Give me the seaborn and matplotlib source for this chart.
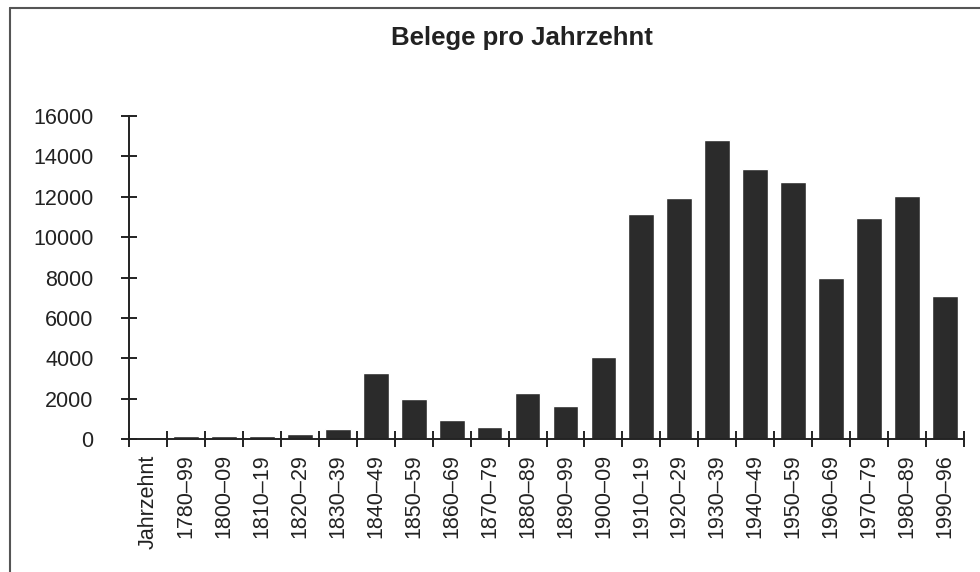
import matplotlib
matplotlib.use("Agg")
import matplotlib.pyplot as plt
from matplotlib.lines import Line2D
import seaborn as sns
import pandas as pd

# Belege pro Jahrzehnt
categories = ["Jahrzehnt", "1780–99", "1800–09", "1810–19", "1820–29", "1830–39",
              "1840–49", "1850–59", "1860–69", "1870–79", "1880–89", "1890–99",
              "1900–09", "1910–19", "1920–29", "1930–39", "1940–49", "1950–59",
              "1960–69", "1970–79", "1980–89", "1990–96"]
decades = categories[1:]
belege = [170, 160, 160, 260, 480, 3270, 1970, 940, 610, 2290, 1630,
          4050, 11140, 11940, 14810, 13370, 12710, 7990, 10960, 12050, 7080]
yticks = [0, 2000, 4000, 6000, 8000, 10000, 12000, 14000, 16000]

df = pd.DataFrame({"decade": decades, "belege": belege})

sns.set_theme(style="white")
plt.rcParams["font.family"] = ["Liberation Sans", "DejaVu Sans"]

fig = plt.figure(figsize=(9.8, 5.72), dpi=100)
ax = fig.add_axes([129 / 980, 1 - 439 / 572, (964 - 129) / 980, (439 - 116) / 572])

sns.barplot(data=df, x="decade", y="belege", order=categories, color="#2b2b2b",
            saturation=1, width=0.68, ax=ax)

ax.set_xlim(-0.5, len(categories) - 0.5)
ax.set_ylim(0, 16000)
ax.set_yticks(yticks)
ax.set_yticklabels([str(v) for v in yticks])
ax.set_xticks(range(len(categories)))
ax.set_xticklabels(categories, rotation=90)
ax.set_xticks([i - 0.5 for i in range(len(categories) + 1)], minor=True)
ax.set_xlabel("")
ax.set_ylabel("")

for s in ["top", "right"]:
    ax.spines[s].set_visible(False)
for s in ["left", "bottom"]:
    ax.spines[s].set_color("#222222")
    ax.spines[s].set_linewidth(1.4)

ax.tick_params(axis="y", direction="inout", length=11, width=1.4, color="#222222",
               pad=20, labelsize=15.5, labelcolor="#222222", left=True)
ax.tick_params(axis="x", which="major", length=0, pad=11, labelsize=15.5,
               labelcolor="#222222", bottom=True)
ax.tick_params(axis="x", which="minor", direction="inout", length=11, width=1.4,
               color="#222222", bottom=True)

fig.text(522 / 980, 1 - 45 / 572, "Belege pro Jahrzehnt", ha="center", va="baseline",
         fontsize=18.5, fontweight="bold", color="#222222")

# frame around the figure (top and left only visible)
fig.add_artist(Line2D([10 / 980, 1], [1 - 8 / 572, 1 - 8 / 572], color="#555555", lw=1.5))
fig.add_artist(Line2D([10 / 980, 10 / 980], [0, 1 - 8 / 572], color="#555555", lw=1.5))

fig.savefig("out.png", dpi=100)
